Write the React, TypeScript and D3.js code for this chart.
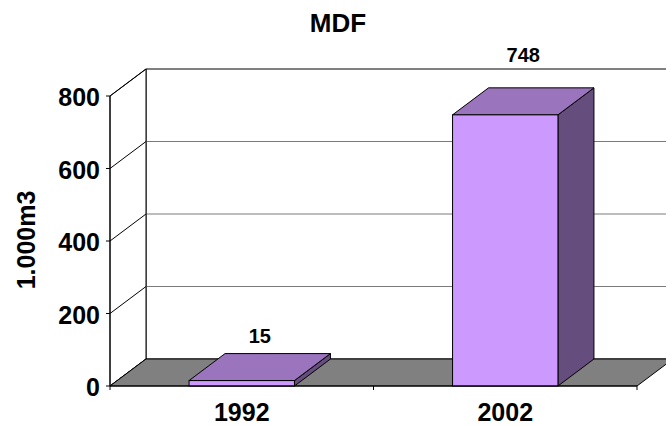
import React, { useRef, useEffect } from 'react';
import { select, scaleLinear, scaleBand } from 'd3';

const categories = ['1992', '2002'];
const values = [15, 748];
const yTicks = [0, 200, 400, 600, 800];
const title = 'MDF';
const yLabel = '1.000m3';

const dim = {
  width: 666,
  height: 426,
  left: 110,
  right: 637,
  top: 96,
  bottom: 386,
  depthX: 36,
  depthY: -27,
  barFrac: 0.4,
};

const font = '"Liberation Sans", Arial, sans-serif';

const MdfChart: React.FC = () => {
  const svgRef = useRef<SVGSVGElement>(null);

  useEffect(() => {
    const svg = select(svgRef.current);
    svg.selectAll('*').remove();

    const dx = dim.depthX;
    const dy = dim.depthY;

    const yScale = scaleLinear().domain([0, 800]).range([dim.bottom, dim.top]);
    const xScale = scaleBand<string>()
      .domain(categories)
      .range([dim.left, dim.right])
      .padding(0);

    const pts = (p: Array<[number, number]>) =>
      p.map((d) => d.join(',')).join(' ');

    const y0 = yScale(0);
    const yMax = yScale(800);

    // back wall
    svg
      .append('polygon')
      .attr(
        'points',
        pts([
          [dim.left + dx, yMax + dy],
          [dim.right + dx, yMax + dy],
          [dim.right + dx, y0 + dy],
          [dim.left + dx, y0 + dy],
        ])
      )
      .attr('fill', 'white')
      .attr('stroke', 'black');

    svg
      .append('g')
      .selectAll('line')
      .data(yTicks.filter((t) => t > 0 && t < 800))
      .join('line')
      .attr('x1', dim.left + dx)
      .attr('x2', dim.right + dx)
      .attr('y1', (t) => yScale(t) + dy)
      .attr('y2', (t) => yScale(t) + dy)
      .attr('stroke', '#7a7a7a');

    // side wall
    svg
      .append('polygon')
      .attr(
        'points',
        pts([
          [dim.left, yMax],
          [dim.left + dx, yMax + dy],
          [dim.left + dx, y0 + dy],
          [dim.left, y0],
        ])
      )
      .attr('fill', 'white')
      .attr('stroke', 'black');

    svg
      .append('g')
      .selectAll('line')
      .data(yTicks)
      .join('line')
      .attr('x1', dim.left)
      .attr('x2', dim.left + dx)
      .attr('y1', (t) => yScale(t))
      .attr('y2', (t) => yScale(t) + dy)
      .attr('stroke', 'black');

    // floor
    svg
      .append('polygon')
      .attr(
        'points',
        pts([
          [dim.left, y0],
          [dim.right, y0],
          [dim.right + dx, y0 + dy],
          [dim.left + dx, y0 + dy],
        ])
      )
      .attr('fill', '#808080')
      .attr('stroke', 'black');

    // bars
    const bars = categories.map((c, i) => {
      const bw = xScale.bandwidth() * dim.barFrac;
      const x = (xScale(c) || 0) + (xScale.bandwidth() - bw) / 2;
      return { x, w: bw, yTop: yScale(values[i]), v: values[i], c };
    });

    const barG = svg.append('g').selectAll('g').data(bars).join('g');

    barG
      .append('polygon')
      .attr('points', (b) =>
        pts([
          [b.x + b.w, b.yTop],
          [b.x + b.w + dx, b.yTop + dy],
          [b.x + b.w + dx, y0 + dy],
          [b.x + b.w, y0],
        ])
      )
      .attr('fill', '#654e7e')
      .attr('stroke', 'black');

    barG
      .append('polygon')
      .attr('points', (b) =>
        pts([
          [b.x, b.yTop],
          [b.x + dx, b.yTop + dy],
          [b.x + b.w + dx, b.yTop + dy],
          [b.x + b.w, b.yTop],
        ])
      )
      .attr('fill', '#9a75be')
      .attr('stroke', 'black');

    barG
      .append('rect')
      .attr('x', (b) => b.x)
      .attr('y', (b) => b.yTop)
      .attr('width', (b) => b.w)
      .attr('height', (b) => y0 - b.yTop)
      .attr('fill', '#cc99ff')
      .attr('stroke', 'black');

    // value labels sit a bit higher above taller bars, as in the original
    barG
      .append('text')
      .attr('x', (b) => b.x + b.w / 2 + dx / 2)
      .attr('y', (b) => b.yTop + dy - 10 - (17 * b.v) / 800)
      .attr('text-anchor', 'middle')
      .attr('font-family', font)
      .attr('font-weight', 'bold')
      .attr('font-size', 20)
      .text((b) => b.v);

    // front axes
    svg
      .append('line')
      .attr('x1', dim.left)
      .attr('x2', dim.left)
      .attr('y1', yMax)
      .attr('y2', y0)
      .attr('stroke', 'black');
    svg
      .append('line')
      .attr('x1', dim.left)
      .attr('x2', dim.right)
      .attr('y1', y0)
      .attr('y2', y0)
      .attr('stroke', 'black');

    svg
      .append('g')
      .selectAll('line')
      .data(yTicks)
      .join('line')
      .attr('x1', dim.left - 4)
      .attr('x2', dim.left)
      .attr('y1', (t) => yScale(t))
      .attr('y2', (t) => yScale(t))
      .attr('stroke', 'black');

    const xTickPos = [dim.left, ...categories.map((c) => (xScale(c) || 0) + xScale.bandwidth())];
    svg
      .append('g')
      .selectAll('line')
      .data(xTickPos)
      .join('line')
      .attr('x1', (d) => d)
      .attr('x2', (d) => d)
      .attr('y1', y0)
      .attr('y2', y0 + 4)
      .attr('stroke', 'black');

    svg
      .append('g')
      .selectAll('text')
      .data(yTicks)
      .join('text')
      .attr('x', dim.left - 10)
      .attr('y', (t) => yScale(t) + 10)
      .attr('text-anchor', 'end')
      .attr('font-family', font)
      .attr('font-weight', 'bold')
      .attr('font-size', 25)
      .text((t) => t);

    svg
      .append('g')
      .selectAll('text')
      .data(categories)
      .join('text')
      .attr('x', (c) => (xScale(c) || 0) + xScale.bandwidth() / 2)
      .attr('y', y0 + 35)
      .attr('text-anchor', 'middle')
      .attr('font-family', font)
      .attr('font-weight', 'bold')
      .attr('font-size', 25)
      .text((c) => c);

    svg
      .append('text')
      .attr('transform', `translate(35, 240) rotate(-90)`)
      .attr('text-anchor', 'middle')
      .attr('font-family', font)
      .attr('font-weight', 'bold')
      .attr('font-size', 25)
      .text(yLabel);

    svg
      .append('text')
      .attr('x', 338)
      .attr('y', 32)
      .attr('text-anchor', 'middle')
      .attr('font-family', font)
      .attr('font-weight', 'bold')
      .attr('font-size', 26)
      .text(title);
  }, []);

  return (
    <svg
      ref={svgRef}
      width={dim.width}
      height={dim.height}
      style={{ position: 'absolute', left: 0, top: 0, background: 'white' }}
    />
  );
};

export default function App() {
  return <MdfChart />;
}
